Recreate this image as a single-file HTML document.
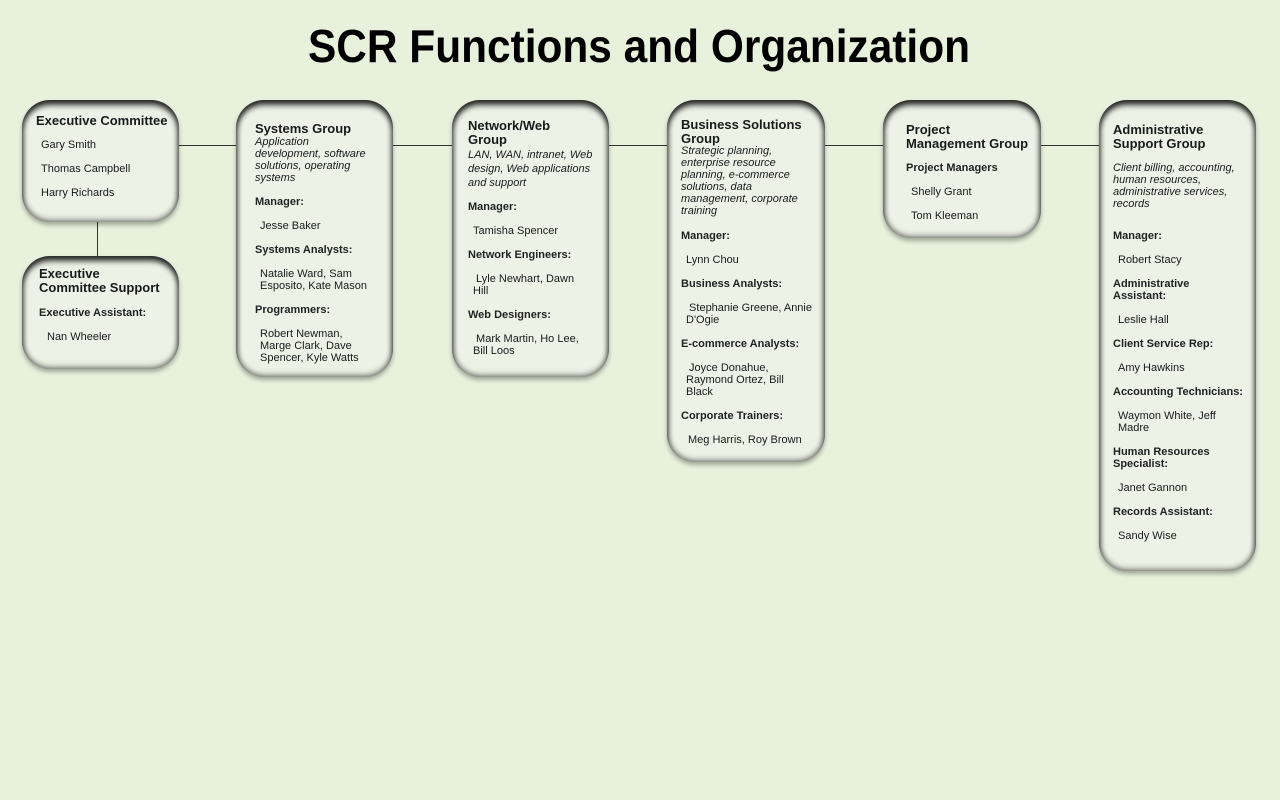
<!DOCTYPE html>
<html><head><meta charset="utf-8"><style>
html,body{margin:0;padding:0}
body{width:1280px;height:800px;background:#e7f1dc;position:relative;overflow:hidden;font-family:"Liberation Sans",sans-serif;color:#1a1a1a}
.b{position:absolute;background:#eef2e6;border-radius:28px;box-shadow:inset 0 5px 6px rgba(0,0,0,.8),inset 0 -3px 6px rgba(0,0,0,.3),inset 3px 0 5px rgba(0,0,0,.18),inset -3px 0 5px rgba(0,0,0,.18),0 3px 4px rgba(0,0,0,.3)}
.l{position:absolute;background:#333}
.t,.h,.s,.i{margin-top:1px}
.t{position:absolute;font-size:11px;line-height:12px;white-space:nowrap}
.h{position:absolute;font-size:13px;line-height:14px;font-weight:bold;white-space:nowrap}
.s{position:absolute;font-size:11px;line-height:12px;white-space:nowrap;font-weight:bold;color:#222}
.i{position:absolute;font-size:11px;line-height:12px;white-space:nowrap;font-style:italic}
</style></head><body>
<svg style="position:absolute;left:0;top:0" width="1280" height="90"><text x="308" y="62" textLength="662" lengthAdjust="spacingAndGlyphs" font-family="Liberation Sans" font-weight="bold" font-size="46" fill="#000">SCR Functions and Organization</text></svg>

<div class="l" style="left:179px;top:145px;width:920px;height:1px"></div>
<div class="l" style="left:97px;top:222px;width:1px;height:34px"></div>

<div class="b" style="left:22px;top:100px;width:157px;height:122px"></div>
<div class="b" style="left:22px;top:256px;width:157px;height:113px"></div>
<div class="b" style="left:236px;top:100px;width:157px;height:277px"></div>
<div class="b" style="left:452px;top:100px;width:157px;height:277px"></div>
<div class="b" style="left:667px;top:100px;width:158px;height:362px"></div>
<div class="b" style="left:883px;top:100px;width:158px;height:138px"></div>
<div class="b" style="left:1099px;top:100px;width:157px;height:471px"></div>

<div class="h" style="left:36px;top:113px">Executive Committee</div>
<div class="t" style="left:41px;top:138px">Gary Smith</div>
<div class="t" style="left:41px;top:162px">Thomas Campbell</div>
<div class="t" style="left:41px;top:186px">Harry Richards</div>

<div class="h" style="left:39px;top:266px">Executive<br>Committee Support</div>
<div class="s" style="left:39px;top:306px">Executive Assistant:</div>
<div class="t" style="left:47px;top:330px">Nan Wheeler</div>

<div class="h" style="left:255px;top:121px">Systems Group</div>
<div class="i" style="left:255px;top:135px">Application<br>development, software<br>solutions, operating<br>systems</div>
<div class="s" style="left:255px;top:195px">Manager:</div>
<div class="t" style="left:260px;top:219px">Jesse Baker</div>
<div class="s" style="left:255px;top:243px">Systems Analysts:</div>
<div class="t" style="left:260px;top:267px">Natalie Ward, Sam<br>Esposito, Kate Mason</div>
<div class="s" style="left:255px;top:303px">Programmers:</div>
<div class="t" style="left:260px;top:327px">Robert Newman,<br>Marge Clark, Dave<br>Spencer, Kyle Watts</div>

<div class="h" style="left:468px;top:118px">Network/Web<br>Group</div>
<div class="i" style="left:468px;top:147px;line-height:14px">LAN, WAN, intranet, Web<br>design, Web applications<br>and support</div>
<div class="s" style="left:468px;top:200px">Manager:</div>
<div class="t" style="left:473px;top:224px">Tamisha Spencer</div>
<div class="s" style="left:468px;top:248px">Network Engineers:</div>
<div class="t" style="left:473px;top:272px">&nbsp;Lyle Newhart, Dawn<br>Hill</div>
<div class="s" style="left:468px;top:308px">Web Designers:</div>
<div class="t" style="left:473px;top:332px">&nbsp;Mark Martin, Ho Lee,<br>Bill Loos</div>

<div class="h" style="left:681px;top:117px">Business Solutions<br>Group</div>
<div class="i" style="left:681px;top:144px">Strategic planning,<br>enterprise resource<br>planning, e-commerce<br>solutions, data<br>management, corporate<br>training</div>
<div class="s" style="left:681px;top:229px">Manager:</div>
<div class="t" style="left:686px;top:253px">Lynn Chou</div>
<div class="s" style="left:681px;top:277px">Business Analysts:</div>
<div class="t" style="left:686px;top:301px">&nbsp;Stephanie Greene, Annie<br>D'Ogie</div>
<div class="s" style="left:681px;top:337px">E-commerce Analysts:</div>
<div class="t" style="left:686px;top:361px">&nbsp;Joyce Donahue,<br>Raymond Ortez, Bill<br>Black</div>
<div class="s" style="left:681px;top:409px">Corporate Trainers:</div>
<div class="t" style="left:688px;top:433px">Meg Harris, Roy Brown</div>

<div class="h" style="left:906px;top:122px">Project<br>Management Group</div>
<div class="s" style="left:906px;top:161px">Project Managers</div>
<div class="t" style="left:911px;top:185px">Shelly Grant</div>
<div class="t" style="left:911px;top:209px">Tom Kleeman</div>

<div class="h" style="left:1113px;top:122px">Administrative<br>Support Group</div>
<div class="i" style="left:1113px;top:161px">Client billing, accounting,<br>human resources,<br>administrative services,<br>records</div>
<div class="s" style="left:1113px;top:229px">Manager:</div>
<div class="t" style="left:1118px;top:253px">Robert Stacy</div>
<div class="s" style="left:1113px;top:277px">Administrative<br>Assistant:</div>
<div class="t" style="left:1118px;top:313px">Leslie Hall</div>
<div class="s" style="left:1113px;top:337px">Client Service Rep:</div>
<div class="t" style="left:1118px;top:361px">Amy Hawkins</div>
<div class="s" style="left:1113px;top:385px">Accounting Technicians:</div>
<div class="t" style="left:1118px;top:409px">Waymon White, Jeff<br>Madre</div>
<div class="s" style="left:1113px;top:445px">Human Resources<br>Specialist:</div>
<div class="t" style="left:1118px;top:481px">Janet Gannon</div>
<div class="s" style="left:1113px;top:505px">Records Assistant:</div>
<div class="t" style="left:1118px;top:529px">Sandy Wise</div>
</body></html>
